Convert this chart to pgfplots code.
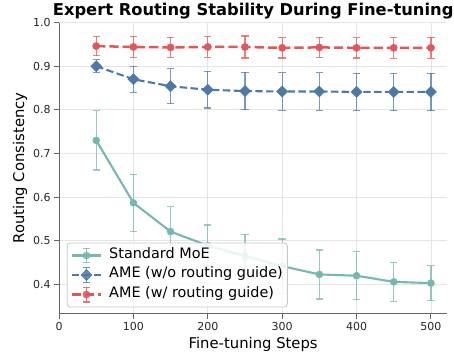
\documentclass[border=0pt]{standalone}
\usepackage{fontspec}
\setmainfont{DejaVu Sans}
\usepackage{pgfplots}
\pgfplotsset{compat=1.18}
\definecolor{cteal}{HTML}{76B7B2}
\definecolor{cblue}{HTML}{4E79A7}
\definecolor{cred}{HTML}{E15759}
\pgfplotsset{
  ebleg/.style={legend image code/.code={
    \draw[#1, solid, line width=1.3pt, opacity=0.8, mark=none] (14.5pt,-7.3pt) -- (14.5pt,7.3pt);
    \draw[#1, solid, line width=1.3pt, opacity=0.8, mark=none] (10.8pt,-7.3pt) -- (18.2pt,-7.3pt);
    \draw[#1, solid, line width=1.3pt, opacity=0.8, mark=none] (10.8pt,7.3pt) -- (18.2pt,7.3pt);
    \draw[mark repeat=2, mark phase=2, #1] plot coordinates {(0pt,0pt) (14.5pt,0pt) (29pt,0pt)};
  }}
}
\begin{document}
\begin{tikzpicture}
\begin{axis}[
  scale only axis,
  width=388pt, height=291pt,
  xmin=0, xmax=522, ymin=0.333, ymax=1.0,
  xtick={0,100,200,300,400,500},
  ytick={0.4,0.5,0.6,0.7,0.8,0.9,1.0},
  yticklabel style={/pgf/number format/.cd,fixed,fixed zerofill,precision=1},
  /pgf/number format/assume math mode=true,
  axis x line*=bottom, axis y line*=left,
  axis line style={black!60, line width=0.9pt},
  tick style={black!60, line width=0.9pt},
  tick align=outside, major tick length=4.9pt,
  ticklabel style={font=\fontsize{11}{13}\selectfont, text=black!85},
  grid=major, major grid style={black!10, line width=0.7pt},
  xlabel={Fine-tuning Steps}, ylabel={Routing Consistency},
  label style={font=\fontsize{14.8}{16}\selectfont},
  xlabel style={at={(axis description cs:0.5,-0.1186)}, anchor=base, inner sep=0pt},
  ylabel style={at={(axis description cs:-0.0902,0.5)}, anchor=base, inner sep=0pt},
  title={\bfseries Expert Routing Stability During Fine-tuning},
  title style={font=\fontsize{16.3}{18}\selectfont, at={(axis description cs:0.5,1)}, anchor=base, inner sep=0pt, yshift=1.5pt},
  legend style={at={(0.02,0.0216)}, anchor=south west, draw=black!22, line width=0.8pt, rounded corners=3pt, fill=white, fill opacity=0.85, text opacity=1, font=\fontsize{14.4}{15}\selectfont, row sep=3.6pt, inner xsep=3.5pt, inner ysep=4.5pt, nodes={inner sep=1pt, text height=0.76em, text depth=0.24em}, /tikz/every odd column/.append style={column sep=6pt}},
  legend cell align=left,
  error bars/y dir=both, error bars/y explicit,
]
\addplot+[cteal, line width=2.1pt, mark=*, mark size=3.5pt, mark options={solid, fill=cteal, draw=cteal, line width=0.5pt}, ebleg,
  error bars/error bar style={cteal, line width=1.3pt, opacity=0.75},
  error bars/error mark options={rotate=90, mark size=3.7pt, line width=1.3pt, cteal, opacity=0.75}]
coordinates {
(50,0.730) +- (0,0.068)
(100,0.587) +- (0,0.065)
(150,0.521) +- (0,0.057)
(200,0.489) +- (0,0.047)
(250,0.465) +- (0,0.050)
(300,0.442) +- (0,0.062)
(350,0.423) +- (0,0.056)
(400,0.420) +- (0,0.055)
(450,0.406) +- (0,0.045)
(500,0.403) +- (0,0.040)
};
\addlegendentry{Standard MoE}
\addplot+[cblue, line width=2.1pt, dash pattern=on 7.4pt off 3.4pt, mark=square*, mark size=3.9pt, mark options={solid, rotate=45, fill=cblue, draw=cblue, line width=0.5pt}, ebleg,
  error bars/error bar style={cblue, solid, line width=1.3pt, opacity=0.75},
  error bars/error mark options={rotate=90, mark size=3.7pt, line width=1.3pt, cblue, opacity=0.75}]
coordinates {
(50,0.900) +- (0,0.015)
(100,0.870) +- (0,0.030)
(150,0.854) +- (0,0.040)
(200,0.846) +- (0,0.042)
(250,0.843) +- (0,0.043)
(300,0.842) +- (0,0.043)
(350,0.842) +- (0,0.043)
(400,0.841) +- (0,0.043)
(450,0.841) +- (0,0.043)
(500,0.841) +- (0,0.043)
};
\addlegendentry{AME (w/o routing guide)}
\addplot+[cred, line width=2.5pt, dash pattern=on 9.2pt off 4pt, mark=*, mark size=3.6pt, mark options={solid, fill=cred, draw=cred, line width=0.5pt}, ebleg,
  error bars/error bar style={cred, solid, line width=1.3pt, opacity=0.75},
  error bars/error mark options={rotate=90, mark size=3.7pt, line width=1.3pt, cred, opacity=0.75}]
coordinates {
(50,0.946) +- (0,0.022)
(100,0.944) +- (0,0.024)
(150,0.943) +- (0,0.023)
(200,0.944) +- (0,0.024)
(250,0.944) +- (0,0.025)
(300,0.942) +- (0,0.023)
(350,0.943) +- (0,0.023)
(400,0.942) +- (0,0.023)
(450,0.942) +- (0,0.024)
(500,0.942) +- (0,0.024)
};
\addlegendentry{AME (w/ routing guide)}
\end{axis}
\path ([xshift=-59pt,yshift=-42.7pt]current axis.south west) rectangle ([xshift=6.7pt,yshift=22.5pt]current axis.north east);
\end{tikzpicture}
\end{document}
